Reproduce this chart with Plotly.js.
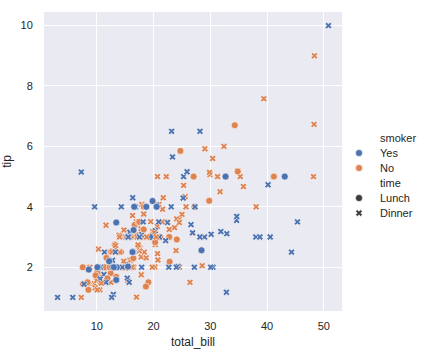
<!DOCTYPE html>
<html><head><meta charset="utf-8">
<script src="https://cdn.plot.ly/plotly-3.0.1.min.js"></script>
<style>html,body{margin:0;padding:0;background:#fff}#chart{width:424px;height:352px}</style>
</head><body><div id="chart"></div>
<script>
const total_bill = [
16.99,10.34,21.01,23.68,24.59,25.29,8.77,26.88,15.04,14.78,
10.27,35.26,15.42,18.43,14.83,21.58,10.33,16.29,16.97,20.65,
17.92,20.29,15.77,39.42,19.82,17.81,13.37,12.69,21.7,19.65,
9.55,18.35,15.06,20.69,17.78,24.06,16.31,16.93,18.69,31.27,
16.04,17.46,13.94,9.68,30.4,18.29,22.23,32.4,28.55,18.04,
12.54,10.29,34.81,9.94,25.56,19.49,38.01,26.41,11.24,48.27,
20.29,13.81,11.02,18.29,17.59,20.08,16.45,3.07,20.23,15.01,
12.02,17.07,26.86,25.28,14.73,10.51,17.92,27.2,22.76,17.29,
19.44,16.66,10.07,32.68,15.98,34.83,13.03,18.28,24.71,21.16,
28.97,22.49,5.75,16.32,22.75,40.17,27.28,12.03,21.01,12.46,
11.35,15.38,44.3,22.42,20.92,15.36,20.49,25.21,18.24,14.31,
14.0,7.25,38.07,23.95,25.71,17.31,29.93,10.65,12.43,24.08,
11.69,13.42,14.26,15.95,12.48,29.8,8.52,14.52,11.38,22.82,
19.08,20.27,11.17,12.26,18.26,8.51,10.33,14.15,16.0,13.16,
17.47,34.3,41.19,27.05,16.43,8.35,18.64,11.87,9.78,7.51,
14.07,13.13,17.26,24.55,19.77,29.85,48.17,25.0,13.39,16.49,
21.5,12.66,16.21,13.81,17.51,24.52,20.76,31.71,10.59,10.63,
50.81,15.81,7.25,31.85,16.82,32.9,17.89,14.48,9.6,34.63,
34.65,23.33,45.35,23.17,40.55,20.69,20.9,30.46,18.15,23.1,
15.69,19.81,28.44,15.48,16.58,7.56,10.34,43.11,13.0,13.51,
18.71,12.74,13.0,16.4,20.53,16.47,26.59,38.73,24.27,12.76,
30.06,25.89,48.33,13.27,28.17,12.9,28.15,11.59,7.74,30.14,
12.16,13.42,8.58,15.98,13.42,16.27,10.09,20.45,13.28,22.12,
24.01,15.69,11.61,10.77,15.53,10.07,12.6,32.83,35.83,29.03,
27.18,22.67,17.82,18.78];
const tip = [
1.01,1.66,3.5,3.31,3.61,4.71,2.0,3.12,1.96,3.23,
1.71,5.0,1.57,3.0,3.02,3.92,1.67,3.71,3.5,3.35,
4.08,2.75,2.23,7.58,3.18,2.34,2.0,2.0,4.3,3.0,
1.45,2.5,3.0,2.45,3.27,3.6,2.0,3.07,2.31,5.0,
2.24,2.54,3.06,1.32,5.6,3.0,5.0,6.0,2.05,3.0,
2.5,2.6,5.2,1.56,4.34,3.51,3.0,1.5,1.76,6.73,
3.21,2.0,1.98,3.76,2.64,3.15,2.47,1.0,2.01,2.09,
1.97,3.0,3.14,5.0,2.2,1.25,3.08,4.0,3.0,2.71,
3.0,3.4,1.83,5.0,2.03,5.17,2.0,4.0,5.85,3.0,
3.0,3.5,1.0,4.3,3.25,4.73,4.0,1.5,3.0,1.5,
2.5,3.0,2.5,3.48,4.08,1.64,4.06,4.29,3.76,4.0,
3.0,1.0,4.0,2.55,4.0,3.5,5.07,1.5,1.8,2.92,
2.31,1.68,2.5,2.0,2.52,4.2,1.48,2.0,2.0,2.18,
1.5,2.83,1.5,2.0,3.25,1.25,2.0,2.0,2.0,2.75,
3.5,6.7,5.0,5.0,2.3,1.5,1.36,1.63,1.73,2.0,
2.5,2.0,2.74,2.0,2.0,5.14,5.0,3.75,2.61,2.0,
3.5,2.5,2.0,2.0,3.0,3.48,2.24,4.5,1.61,2.0,
10.0,3.16,5.15,3.18,4.0,3.11,2.0,2.0,4.0,3.55,
3.68,5.65,3.5,6.5,3.0,5.0,3.5,2.0,3.5,4.0,
1.5,4.19,2.56,2.02,4.0,1.44,2.0,5.0,2.0,2.0,
4.0,2.01,2.0,2.5,4.0,3.23,3.41,3.0,2.03,2.23,
2.0,5.16,9.0,2.5,6.5,1.1,3.0,1.5,1.44,3.09,
2.2,3.48,1.92,3.0,1.58,2.5,2.0,3.0,2.72,2.88,
2.0,3.0,3.39,1.47,3.0,1.25,1.0,1.17,4.67,5.92,
2.0,2.0,1.75,3.0];
const smoker = [
"No","No","No","No","No","No","No","No","No","No",
"No","No","No","No","No","No","No","No","No","No",
"No","No","No","No","No","No","No","No","No","No",
"No","No","No","No","No","No","No","No","No","No",
"No","No","No","No","No","No","No","No","No","No",
"No","No","No","No","No","No","Yes","No","Yes","No",
"Yes","Yes","Yes","Yes","No","No","No","Yes","No","Yes",
"No","No","Yes","Yes","No","No","Yes","No","No","No",
"Yes","No","No","Yes","No","No","No","No","No","No",
"Yes","No","Yes","Yes","No","Yes","Yes","Yes","Yes","No",
"Yes","Yes","Yes","Yes","No","Yes","Yes","Yes","No","Yes",
"No","No","No","No","No","No","No","No","No","No",
"No","No","No","No","No","No","No","No","No","No",
"No","No","No","No","No","No","No","No","Yes","No",
"No","No","No","No","No","No","No","No","No","No",
"No","No","No","No","No","No","No","No","No","No",
"No","No","No","No","Yes","No","No","No","Yes","Yes",
"Yes","Yes","Yes","Yes","Yes","Yes","Yes","Yes","Yes","Yes",
"Yes","Yes","Yes","Yes","Yes","No","Yes","Yes","Yes","Yes",
"Yes","Yes","Yes","Yes","Yes","No","Yes","Yes","Yes","Yes",
"Yes","Yes","Yes","Yes","Yes","Yes","Yes","Yes","Yes","Yes",
"Yes","Yes","No","Yes","Yes","Yes","Yes","Yes","Yes","Yes",
"Yes","Yes","Yes","No","Yes","Yes","Yes","No","No","Yes",
"Yes","Yes","No","No","Yes","No","Yes","Yes","No","No",
"Yes","Yes","No","No"];
const time = [
"Dinner","Dinner","Dinner","Dinner","Dinner","Dinner","Dinner","Dinner","Dinner","Dinner",
"Dinner","Dinner","Dinner","Dinner","Dinner","Dinner","Dinner","Dinner","Dinner","Dinner",
"Dinner","Dinner","Dinner","Dinner","Dinner","Dinner","Dinner","Dinner","Dinner","Dinner",
"Dinner","Dinner","Dinner","Dinner","Dinner","Dinner","Dinner","Dinner","Dinner","Dinner",
"Dinner","Dinner","Dinner","Dinner","Dinner","Dinner","Dinner","Dinner","Dinner","Dinner",
"Dinner","Dinner","Dinner","Dinner","Dinner","Dinner","Dinner","Dinner","Dinner","Dinner",
"Dinner","Dinner","Dinner","Dinner","Dinner","Dinner","Dinner","Dinner","Dinner","Dinner",
"Dinner","Dinner","Dinner","Dinner","Dinner","Dinner","Dinner","Lunch","Lunch","Lunch",
"Lunch","Lunch","Lunch","Lunch","Lunch","Lunch","Lunch","Lunch","Lunch","Lunch",
"Dinner","Dinner","Dinner","Dinner","Dinner","Dinner","Dinner","Dinner","Dinner","Dinner",
"Dinner","Dinner","Dinner","Dinner","Dinner","Dinner","Dinner","Dinner","Dinner","Dinner",
"Dinner","Dinner","Dinner","Dinner","Dinner","Dinner","Dinner","Lunch","Lunch","Lunch",
"Lunch","Lunch","Lunch","Lunch","Lunch","Lunch","Lunch","Lunch","Lunch","Lunch",
"Lunch","Lunch","Lunch","Lunch","Lunch","Lunch","Lunch","Lunch","Lunch","Lunch",
"Lunch","Lunch","Lunch","Lunch","Lunch","Lunch","Lunch","Lunch","Lunch","Lunch",
"Dinner","Dinner","Dinner","Dinner","Dinner","Dinner","Dinner","Dinner","Dinner","Dinner",
"Dinner","Dinner","Dinner","Dinner","Dinner","Dinner","Dinner","Dinner","Dinner","Dinner",
"Dinner","Dinner","Dinner","Dinner","Dinner","Dinner","Dinner","Dinner","Dinner","Dinner",
"Dinner","Dinner","Dinner","Dinner","Dinner","Dinner","Dinner","Dinner","Dinner","Dinner",
"Dinner","Lunch","Lunch","Lunch","Lunch","Lunch","Lunch","Lunch","Lunch","Lunch",
"Lunch","Lunch","Lunch","Lunch","Lunch","Lunch","Dinner","Dinner","Dinner","Dinner",
"Dinner","Dinner","Dinner","Dinner","Dinner","Dinner","Dinner","Dinner","Dinner","Dinner",
"Lunch","Lunch","Lunch","Lunch","Lunch","Lunch","Lunch","Dinner","Dinner","Dinner",
"Dinner","Dinner","Dinner","Dinner","Dinner","Dinner","Dinner","Dinner","Dinner","Dinner",
"Dinner","Dinner","Dinner","Dinner"];

const hueLevels = ["Yes", "No"];
const styleLevels = ["Lunch", "Dinner"];
const legendTitles = ["smoker", "time"];

const hueColors = {"Yes": "#4c72b0", "No": "#dd8452"};
const styleSymbols = {"Lunch": "circle", "Dinner": "x"};
const styleSizes = {"Lunch": 7, "Dinner": 6};
const styleLegendColor = "#3a3a3a";
const textColor = "#262626";
const FONT = "Liberation Sans, Arial, sans-serif";

const main = {
  type: "scatter", mode: "markers", x: total_bill, y: tip,
  xaxis: "x", yaxis: "y", showlegend: false, hoverinfo: "skip",
  marker: {
    color: smoker.map(s => hueColors[s]),
    symbol: time.map(t => styleSymbols[t]),
    size: time.map(t => styleSizes[t]),
    opacity: 1,
    line: {color: "#ffffff", width: 0.6}
  }
};

// custom legend (rows laid out by index on a hidden helper subplot at the right)
const legRows = [];
legRows.push({label: legendTitles[0], header: true});
hueLevels.forEach(h => legRows.push({label: h, color: hueColors[h], symbol: "circle", size: 7}));
legRows.push({label: legendTitles[1], header: true});
styleLevels.forEach(s => legRows.push({label: s, color: styleLegendColor, symbol: styleSymbols[s], size: styleSizes[s]}));

const itemRows = legRows.map((r, i) => ({r, i})).filter(o => !o.r.header);
const legendTrace = {
  type: "scatter", mode: "markers", xaxis: "x2", yaxis: "y2",
  x: itemRows.map(() => 0), y: itemRows.map(o => o.i),
  showlegend: false, hoverinfo: "skip",
  marker: {color: itemRows.map(o => o.r.color), symbol: itemRows.map(o => o.r.symbol),
           size: itemRows.map(o => o.r.size), opacity: 1, line: {color: "#ffffff", width: 0.6}}
};
const annotations = legRows.map((r, i) => ({
  xref: "x2", yref: "y2", x: 19, y: i, text: r.label, showarrow: false,
  xanchor: "left", yanchor: "middle", font: {family: FONT, size: 11, color: textColor}
}));

const plotW = 424 - 44;
const layout = {
  width: 424, height: 352,
  margin: {l: 44, r: 0, t: 12, b: 41},
  paper_bgcolor: "#ffffff", plot_bgcolor: "rgba(0,0,0,0)",
  font: {family: FONT, size: 11, color: textColor},
  showlegend: false,
  shapes: [{type: "rect", xref: "x domain", yref: "y domain", x0: 0, x1: 1, y0: 0, y1: 1,
            fillcolor: "#eaeaf2", line: {width: 0}, layer: "below"}],
  xaxis: {
    domain: [0, 298 / plotW], range: [0.683, 53.197],
    tickvals: [10, 20, 30, 40, 50], showgrid: true, gridcolor: "#ffffff", gridwidth: 1,
    zeroline: false, showline: false, ticks: "outside", ticklen: 5, tickcolor: "rgba(0,0,0,0)",
    tickfont: {family: FONT, size: 11, color: textColor},
    title: {text: "total_bill", font: {family: FONT, size: 12, color: textColor}, standoff: 6}
  },
  yaxis: {
    domain: [0, 1], range: [0.55, 10.45],
    tickvals: [2, 4, 6, 8, 10], showgrid: true, gridcolor: "#ffffff", gridwidth: 1,
    zeroline: false, showline: false, ticks: "outside", ticklen: 8, tickcolor: "rgba(0,0,0,0)",
    tickfont: {family: FONT, size: 11, color: textColor},
    title: {text: "tip", font: {family: FONT, size: 12, color: textColor}, standoff: 8}
  },
  xaxis2: {domain: [300 / plotW, 1], anchor: "y2", range: [-15, 65], visible: false, showgrid: false, fixedrange: true},
  yaxis2: {domain: [0, 1], anchor: "x2", range: [11.53, -8.4], visible: false, showgrid: false, fixedrange: true},
  annotations: annotations
};

Plotly.newPlot("chart", [main, legendTrace], layout, {displayModeBar: false, staticPlot: true});
</script>
</body></html>
